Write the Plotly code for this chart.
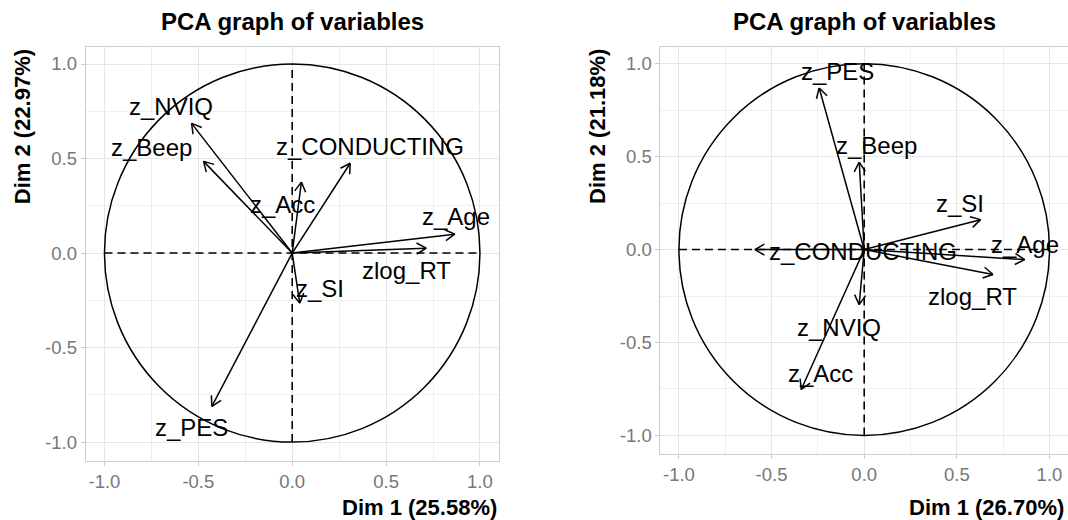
import numpy as np
import plotly.graph_objects as go

W, H = 1068, 520

# ---- data: variable coordinates on the first two dimensions ----
variables_a = ["z_NVIQ", "z_Beep", "z_CONDUCTING", "z_Acc", "z_Age", "zlog_RT", "z_SI", "z_PES"]
dim1_a = [-0.536, -0.472, 0.309, 0.049, 0.866, 0.714, 0.040, -0.428]
dim2_a = [0.686, 0.485, 0.475, 0.375, 0.100, 0.026, -0.265, -0.811]
pct_a = (25.58, 22.97)

variables_b = ["z_PES", "z_Beep", "z_SI", "z_Age", "z_CONDUCTING", "zlog_RT", "z_NVIQ", "z_Acc"]
dim1_b = [-0.243, -0.027, 0.628, 0.866, -0.590, 0.695, -0.027, -0.340]
dim2_b = [0.869, 0.471, 0.161, -0.054, 0.000, -0.134, -0.296, -0.753]
pct_b = (26.70, 21.18)

tick_vals = [-1.0, -0.5, 0.0, 0.5, 1.0]
tick_text = ["-1.0", "-0.5", "0.0", "0.5", "1.0"]

# ---- layout: label placement (offset from arrow tip, data units) ----
label_offsets_a = {
    "z_NVIQ": (-0.109, 0.090), "z_Beep": (-0.279, 0.075), "z_CONDUCTING": (0.103, 0.090),
    "z_Acc": (-0.099, -0.116), "z_Age": (0.005, 0.092), "zlog_RT": (-0.104, -0.116),
    "z_SI": (0.107, 0.075), "z_PES": (-0.107, -0.114),
}
label_offsets_b = {
    "z_PES": (0.101, 0.090), "z_Beep": (0.096, 0.090), "z_SI": (-0.109, 0.086),
    "z_Age": (0.000, 0.081), "z_CONDUCTING": (0.584, -0.009), "zlog_RT": (-0.112, -0.117),
    "z_NVIQ": (-0.111, -0.125), "z_Acc": (0.106, 0.085),
}

# panel geometry in pixels: (left, right, top, bottom)
panels = [
    dict(px=(85.7, 498.7, 47, 461), xr=[-1.1, 1.1], yr=[-1.1, 1.09],
         names=variables_a, d1=dim1_a, d2=dim2_a, pct=pct_a, offs=label_offsets_a),
    dict(px=(660.4, 1068.0, 47, 454), xr=[-1.1, 1.1], yr=[-1.1, 1.09],
         names=variables_b, d1=dim1_b, d2=dim2_b, pct=pct_b, offs=label_offsets_b),
]

FONT = "Liberation Sans, Arial, sans-serif"
GRID = "#e6e6e6"
MINOR = "#efefef"
BORDER = "#cccccc"
TICKTXT = "#777777"
HEAD_PX = 11
HEAD_ANGLE = np.deg2rad(30)
RADIUS = 1.0

fig = go.Figure()
layout = dict(width=W, height=H, margin=dict(l=0, r=0, t=0, b=0),
              paper_bgcolor="white", plot_bgcolor="white", showlegend=False,
              shapes=[], annotations=[])

for i, p in enumerate(panels, start=1):
    l, r, t, b = p["px"]
    xa, ya = ("x" if i == 1 else f"x{i}"), ("y" if i == 1 else f"y{i}")
    xkey, ykey = ("xaxis" if i == 1 else f"xaxis{i}"), ("yaxis" if i == 1 else f"yaxis{i}")
    ppu_x = (r - l) / (p["xr"][1] - p["xr"][0])
    ppu_y = (b - t) / (p["yr"][1] - p["yr"][0])

    axis_common = dict(
        tickvals=tick_vals, ticktext=tick_text, showgrid=True, gridcolor=GRID, gridwidth=1,
        minor=dict(tickvals=[-0.75, -0.25, 0.25, 0.75], showgrid=True, gridcolor=MINOR, gridwidth=1),
        zeroline=False, showline=True, mirror=True, linecolor=BORDER, linewidth=1,
        ticks="outside", ticklen=4, tickcolor=BORDER,
        tickfont=dict(family=FONT, size=18.5, color=TICKTXT),
    )
    layout[xkey] = dict(axis_common, domain=[l / W, r / W], range=p["xr"], anchor=ya)
    layout[ykey] = dict(axis_common, domain=[1 - b / H, 1 - t / H], range=p["yr"], anchor=xa)

    # correlation circle and dashed reference axes (above the grid, under the arrows)
    layout["shapes"] += [
        dict(type="circle", xref=xa, yref=ya, x0=-RADIUS, x1=RADIUS, y0=-RADIUS, y1=RADIUS,
             line=dict(color="black", width=1.5), layer="between"),
        dict(type="line", xref=xa, yref=ya, x0=-RADIUS, x1=RADIUS, y0=0, y1=0,
             line=dict(color="black", width=1.6, dash="8px,5px"), layer="between"),
        dict(type="line", xref=xa, yref=ya, x0=0, x1=0, y0=-RADIUS, y1=RADIUS,
             line=dict(color="black", width=1.6, dash="8px,5px"), layer="between"),
    ]

    # arrows from the origin with open heads, built in pixel space
    xs, ys = [], []
    for name, vx, vy in zip(p["names"], p["d1"], p["d2"]):
        theta = np.arctan2(vy * ppu_y, vx * ppu_x)
        xs += [0, vx, None]
        ys += [0, vy, None]
        for s in (1, -1):
            hx = vx - HEAD_PX * np.cos(theta + s * HEAD_ANGLE) / ppu_x
            hy = vy - HEAD_PX * np.sin(theta + s * HEAD_ANGLE) / ppu_y
            xs += [hx, vx, None]
            ys += [hy, vy, None]
        dx, dy = p["offs"][name]
        layout["annotations"].append(dict(
            x=vx + dx, y=vy + dy, xref=xa, yref=ya, text=name, showarrow=False,
            xanchor="center", yanchor="middle", font=dict(family=FONT, size=24, color="black")))
    fig.add_trace(go.Scatter(x=xs, y=ys, mode="lines", xaxis=xa, yaxis=ya,
                             line=dict(color="black", width=1.5), hoverinfo="skip"))

    cx = (l + r) / 2
    layout["annotations"] += [
        dict(x=cx / W, y=1 - 22 / H, xref="paper", yref="paper", text="<b>PCA graph of variables</b>",
             showarrow=False, xanchor="center", yanchor="middle",
             font=dict(family=FONT, size=24, color="black")),
        dict(x=min(r, 1066) / W, y=1 - 507 / H, xref="paper", yref="paper",
             text=f"<b>Dim 1 ({p['pct'][0]:.2f}%)</b>", showarrow=False,
             xanchor="right", yanchor="middle", font=dict(family=FONT, size=22, color="black")),
        dict(x=(l - 63) / W, y=1 - t / H, xref="paper", yref="paper",
             text=f"<b>Dim 2 ({p['pct'][1]:.2f}%)</b>", showarrow=False, textangle=-90,
             xanchor="center", yanchor="top", font=dict(family=FONT, size=22, color="black")),
    ]

fig.update_layout(**layout)
fig.write_html("out.html")
